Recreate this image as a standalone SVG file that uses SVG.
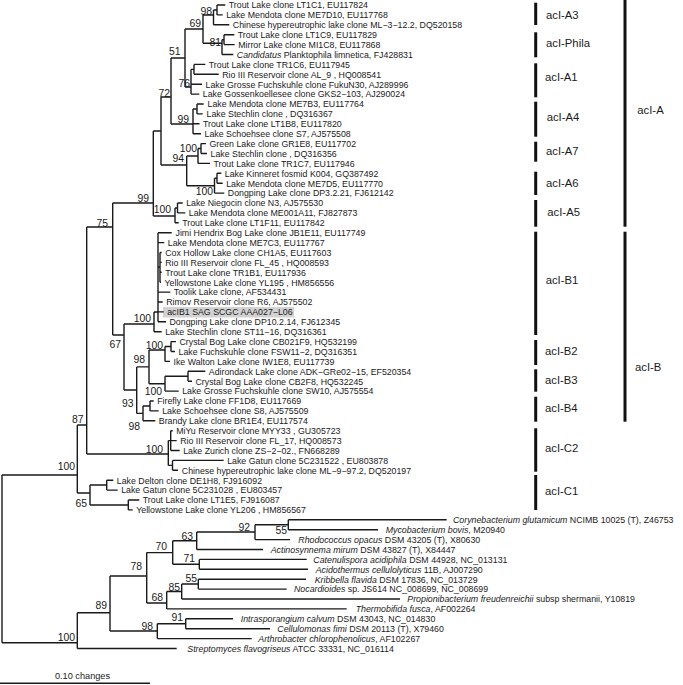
<svg xmlns="http://www.w3.org/2000/svg" width="683" height="685" viewBox="0 0 683 685">
<style>
text{font-family:"Liberation Sans",Arial,Helvetica,sans-serif;fill:#1a1a1a}
.t{font-size:8.8px}
.i{font-style:italic}
.bs{font-size:10.4px;text-anchor:end}
.cl{font-size:11.3px}
.ln{fill:none;stroke:#1a1a1a;stroke-width:1.4}
.bar{stroke:#111;stroke-width:3}
</style>
<rect width="683" height="685" fill="#fff"/>
<rect id="highlight" x="163" y="307" width="131" height="10.5" fill="#d2d2d2"/>
<g id="connectors" class="ln">
<path d="M2 475V642.7M2 475H77.3M2 642.7H77.3"/>
<path d="M77.3 425V493M77.3 425H86.7M77.3 493H90"/>
<path d="M86.7 227V454M86.7 227H112.7M86.7 454H168.3"/>
<path d="M112.7 203V335M112.7 203H153.3M112.7 335H124"/>
<path d="M153.3 131V216M153.3 131H161M153.3 216H175"/>
<path d="M161 97V165M161 97H171M161 165H186.7"/>
<path d="M171 58V124M171 58H185M171 124H193"/>
<path d="M185 29V87M185 29H203M185 87H191"/>
<path d="M203 15V43.3M203 15H213.5M203 43.3H222"/>
<path d="M213.5 10V24.8M213.5 10H217M213.5 24.8H229.3"/>
<path d="M217 5V14.9M217 5H225.3M217 14.9H222.7"/>
<path d="M222 39.7V54.5M222 39.7H224M222 54.5H233.3"/>
<path d="M224 34.7V44.6M224 34.7H234.3M224 44.6H234.7"/>
<path d="M191 69.4V94.1M191 69.4H194M191 84.2H202M191 94.1H199.3"/>
<path d="M194 64.4V74.3M194 64.4H205.3M194 74.3H218.7"/>
<path d="M193 109V133.7M193 109H197M193 123.8H199.5M193 133.7H201"/>
<path d="M197 104V113.9M197 104H203.7M197 113.9H202.7"/>
<path d="M186.7 156V185.7M186.7 156H198M186.7 185.7H214.5"/>
<path d="M198 148.5V163.4M198 148.5H201M198 163.4H210"/>
<path d="M201 143.6V153.5M201 143.6H206M201 153.5H207"/>
<path d="M214.5 178.3V193.1M214.5 178.3H217M214.5 193.1H224.3"/>
<path d="M217 173.3V183.2M217 173.3H221.3M217 183.2H222.7"/>
<path d="M175 208V222.8M175 208H177.5M175 222.8H178.7"/>
<path d="M177.5 203V212.9M177.5 203H182.7M177.5 212.9H185.3"/>
<path d="M124 324V390M124 324H154M124 390H136.7"/>
<path d="M154 312V331.7M154 312H158M154 331.7H161.7"/>
<path d="M158 232.7V321.8M158 232.7H171.7M158 242.6H164.3M158 267H160M158 292.1H170.3M158 302H162.7M158 311.9H163.7M158 321.8H166"/>
<path d="M160 252.5V282.2M160 252.5H161.7M160 262.4H161.7M160 272.3H161.7M160 282.2H161"/>
<path d="M136.7 366.9V413.4M136.7 366.9H149M136.7 413.4H143"/>
<path d="M149 350V383.7M149 350H165M149 383.7H165"/>
<path d="M165 346.5V361.4M165 346.5H171M165 361.4H170"/>
<path d="M171 341.6V351.5M171 341.6H176M171 351.5H175"/>
<path d="M165 376.3V391.1M165 376.3H188M165 391.1H178.7"/>
<path d="M188 371.3V381.2M188 371.3H205.3M188 381.2H192"/>
<path d="M143 406V420.8M143 406H150M143 420.8H155.3"/>
<path d="M150 401V410.9M150 401H153.7M150 410.9H158.7"/>
<path d="M168.3 440.6V465.4M168.3 440.6H170.7M168.3 465.4H172.5"/>
<path d="M170.7 430.7V450.5M170.7 430.7H172.7M170.7 440.6H176.7M170.7 450.5H179.7"/>
<path d="M172.5 460.4V470.3M172.5 460.4H223.7M172.5 470.3H178"/>
<path d="M90 485V505M90 485H106.7M90 505H128.3"/>
<path d="M106.7 480.2V490.1M106.7 480.2H113.3M106.7 490.1H117.7"/>
<path d="M128.3 500V509.9M128.3 500H139.3M128.3 509.9H132.7"/>
<path d="M77.3 612.7V648.5M77.3 612.7H110M77.3 648.5H176.7"/>
<path d="M110 576V631M110 576H146.7M110 631H157.3"/>
<path d="M146.7 552.6V603M146.7 552.6H172.7M146.7 603H166.7"/>
<path d="M172.7 540.8V564.3M172.7 540.8H196.7M172.7 564.3H199.3"/>
<path d="M196.7 532V549.5M196.7 532H255M196.7 549.5H263"/>
<path d="M255 524.7V539.6M255 524.7H288.3M255 539.6H290"/>
<path d="M288.3 519.8V529.7M288.3 519.8H446.7M288.3 529.7H378"/>
<path d="M199.3 559.4V569.3M199.3 559.4H306.7M199.3 569.3H308"/>
<path d="M166.7 591.5V608.9M166.7 591.5H181.7M166.7 608.9H346.7"/>
<path d="M181.7 584V599M181.7 584H198.3M181.7 599H400"/>
<path d="M198.3 579.2V589.1M198.3 579.2H306M198.3 589.1H286.7"/>
<path d="M157.3 623.7V638.6M157.3 623.7H185.7M157.3 638.6H251.7"/>
<path d="M185.7 618.8V628.7M185.7 618.8H233M185.7 628.7H270"/>
</g>
<g id="bootstrap">
<g id="bs-a3-98"><text class="bs" x="212" y="14.5">98</text></g>
<g id="bs-69"><text class="bs" x="201" y="27">69</text></g>
<g id="bs-81"><text class="bs" x="221" y="46">81</text></g>
<g id="bs-51"><text class="bs" x="180.5" y="55">51</text></g>
<g id="bs-76"><text class="bs" x="190" y="87">76</text></g>
<g id="bs-72"><text class="bs" x="170" y="97">72</text></g>
<g id="bs-a4-99"><text class="bs" x="189" y="123">99</text></g>
<g id="bs-a7-100"><text class="bs" x="197" y="152">100</text></g>
<g id="bs-94"><text class="bs" x="184" y="162">94</text></g>
<g id="bs-a6-100"><text class="bs" x="213" y="195">100</text></g>
<g id="bs-a-99"><text class="bs" x="149" y="202">99</text></g>
<g id="bs-a5-100"><text class="bs" x="171" y="213">100</text></g>
<g id="bs-75"><text class="bs" x="108" y="227">75</text></g>
<g id="bs-b1-100"><text class="bs" x="151" y="322">100</text></g>
<g id="bs-67"><text class="bs" x="121" y="348">67</text></g>
<g id="bs-b2-100"><text class="bs" x="163" y="349">100</text></g>
<g id="bs-b23-98"><text class="bs" x="145" y="363">98</text></g>
<g id="bs-b3-100"><text class="bs" x="162" y="395">100</text></g>
<g id="bs-93"><text class="bs" x="133.5" y="407">93</text></g>
<g id="bs-b4-98"><text class="bs" x="140" y="430">98</text></g>
<g id="bs-87"><text class="bs" x="83.5" y="423">87</text></g>
<g id="bs-c2-100"><text class="bs" x="163" y="453">100</text></g>
<g id="bs-in-100"><text class="bs" x="75" y="470">100</text></g>
<g id="bs-65"><text class="bs" x="87" y="507">65</text></g>
<g id="bs-92"><text class="bs" x="250" y="531">92</text></g>
<g id="bs-55a"><text class="bs" x="287" y="534">55</text></g>
<g id="bs-63"><text class="bs" x="193" y="540">63</text></g>
<g id="bs-70"><text class="bs" x="167" y="550">70</text></g>
<g id="bs-71"><text class="bs" x="195" y="562">71</text></g>
<g id="bs-78"><text class="bs" x="142" y="570">78</text></g>
<g id="bs-55b"><text class="bs" x="197" y="582">55</text></g>
<g id="bs-85"><text class="bs" x="180" y="591">85</text></g>
<g id="bs-68"><text class="bs" x="163" y="601">68</text></g>
<g id="bs-89"><text class="bs" x="107" y="609">89</text></g>
<g id="bs-91"><text class="bs" x="183" y="621">91</text></g>
<g id="bs-98o"><text class="bs" x="153" y="630">98</text></g>
<g id="bs-out-100"><text class="bs" x="75" y="641">100</text></g>
</g>
<g id="leaves" class="t">
<g id="L0"><text class="t" x="228.8" y="8.3">Trout Lake clone LT1C1, EU117824</text></g>
<g id="L1"><text class="t" x="226.2" y="18.2">Lake Mendota clone ME7D10, EU117768</text></g>
<g id="L2"><text class="t" x="232.8" y="28.1">Chinese hypereutrophic lake clone ML−3−12.2, DQ520158</text></g>
<g id="L3"><text class="t" x="237.8" y="38">Trout Lake clone LT1C9, EU117829</text></g>
<g id="L4"><text class="t" x="238.2" y="47.9">Mirror Lake clone MI1C8, EU117868</text></g>
<g id="L5"><text class="t" x="236.8" y="57.8"><tspan class="i">Candidatus</tspan> Planktophila limnetica, FJ428831</text></g>
<g id="L6"><text class="t" x="208.8" y="67.7">Trout Lake clone TR1C6, EU117945</text></g>
<g id="L7"><text class="t" x="222.2" y="77.6">Rio III Reservoir clone AL_9 , HQ008541</text></g>
<g id="L8"><text class="t" x="205.5" y="87.5">Lake Grosse Fuchskuhle clone FukuN30, AJ289996</text></g>
<g id="L9"><text class="t" x="202.8" y="97.4">Lake Gossenkoellesee clone GKS2−103, AJ290024</text></g>
<g id="L10"><text class="t" x="207.5" y="107.3">Lake Mendota clone ME7B3, EU117764</text></g>
<g id="L11"><text class="t" x="206.5" y="117.2">Lake Stechlin clone , DQ316367</text></g>
<g id="L12"><text class="t" x="203" y="127.1">Trout Lake clone LT1B8, EU117820</text></g>
<g id="L13"><text class="t" x="204.5" y="137">Lake Schoehsee clone S7, AJ575508</text></g>
<g id="L14"><text class="t" x="209.5" y="146.9">Green Lake clone GR1E8, EU117702</text></g>
<g id="L15"><text class="t" x="210.5" y="156.8">Lake Stechlin clone , DQ316356</text></g>
<g id="L16"><text class="t" x="213.5" y="166.7">Trout Lake clone TR1C7, EU117946</text></g>
<g id="L17"><text class="t" x="224.8" y="176.6">Lake Kinneret fosmid K004, GQ387492</text></g>
<g id="L18"><text class="t" x="226.2" y="186.5">Lake Mendota clone ME7D5, EU117770</text></g>
<g id="L19"><text class="t" x="227.8" y="196.4">Dongping Lake clone DP3.2.21, FJ612142</text></g>
<g id="L20"><text class="t" x="186.2" y="206.3">Lake Niegocin clone N3, AJ575530</text></g>
<g id="L21"><text class="t" x="188.8" y="216.2">Lake Mendota clone ME001A11, FJ827873</text></g>
<g id="L22"><text class="t" x="182.2" y="226.1">Trout Lake clone LT1F11, EU117842</text></g>
<g id="L23"><text class="t" x="175.5" y="236">Jimi Hendrix Bog Lake clone JB1E11, EU117749</text></g>
<g id="L24"><text class="t" x="167.8" y="245.9">Lake Mendota clone ME7C3, EU117767</text></g>
<g id="L25"><text class="t" x="165.2" y="255.8">Cox Hollow Lake clone CH1A5, EU117603</text></g>
<g id="L26"><text class="t" x="165.2" y="265.7">Rio III Reservoir clone FL_45 , HQ008593</text></g>
<g id="L27"><text class="t" x="165.2" y="275.6">Trout Lake clone TR1B1, EU117936</text></g>
<g id="L28"><text class="t" x="164.5" y="285.5">Yellowstone Lake clone YL195 , HM856556</text></g>
<g id="L29"><text class="t" x="173.8" y="295.4">Toolik Lake clone, AF534431</text></g>
<g id="L30"><text class="t" x="166.2" y="305.3">Rimov Reservoir clone R6, AJ575502</text></g>
<g id="L31"><text class="t" x="167.2" y="315.2">acIB1 SAG SCGC AAA027−L06</text></g>
<g id="L32"><text class="t" x="169.5" y="325.1">Dongping Lake clone DP10.2.14, FJ612345</text></g>
<g id="L33"><text class="t" x="165.2" y="335">Lake Stechlin clone ST11−16, DQ316361</text></g>
<g id="L34"><text class="t" x="179.5" y="344.9">Crystal Bog Lake clone CB021F9, HQ532199</text></g>
<g id="L35"><text class="t" x="178.5" y="354.8">Lake Fuchskuhle clone FSW11−2, DQ316351</text></g>
<g id="L36"><text class="t" x="173.5" y="364.7">Ike Walton Lake clone IW1E8, EU117739</text></g>
<g id="L37"><text class="t" x="208.8" y="374.6">Adirondack Lake clone ADK−GRe02−15, EF520354</text></g>
<g id="L38"><text class="t" x="195.5" y="384.5">Crystal Bog Lake clone CB2F8, HQ532245</text></g>
<g id="L39"><text class="t" x="182.2" y="394.4">Lake Grosse Fuchskuhle clone SW10, AJ575554</text></g>
<g id="L40"><text class="t" x="157.2" y="404.3">Firefly Lake clone FF1D8, EU117669</text></g>
<g id="L41"><text class="t" x="162.2" y="414.2">Lake Schoehsee clone S8, AJ575509</text></g>
<g id="L42"><text class="t" x="158.8" y="424.1">Brandy Lake clone BR1E4, EU117574</text></g>
<g id="L43"><text class="t" x="176.2" y="434">MiYu Reservoir clone MYY33 , GU305723</text></g>
<g id="L44"><text class="t" x="180.2" y="443.9">Rio III Reservoir clone FL_17, HQ008573</text></g>
<g id="L45"><text class="t" x="183.2" y="453.8">Lake Zurich clone ZS−2−02., FN668289</text></g>
<g id="L46"><text class="t" x="227.2" y="463.7">Lake Gatun clone 5C231522 , EU803878</text></g>
<g id="L47"><text class="t" x="181.8" y="473.6">Chinese hypereutrophic lake clone ML−9−97.2, DQ520197</text></g>
<g id="L48"><text class="t" x="116.8" y="483.5">Lake Delton clone DE1H8, FJ916092</text></g>
<g id="L49"><text class="t" x="121.2" y="493.4">Lake Gatun clone 5C231028 , EU803457</text></g>
<g id="L50"><text class="t" x="142.8" y="503.3">Trout Lake clone LT1E5, FJ916087</text></g>
<g id="L51"><text class="t" x="136.2" y="513.2">Yellowstone Lake clone YL206 , HM856567</text></g>
<g id="L52"><text class="t" x="453" y="523.1"><tspan class="i">Corynebacterium glutamicum</tspan> NCIMB 10025 (T), Z46753</text></g>
<g id="L53"><text class="t" x="385.7" y="533"><tspan class="i">Mycobacterium bovis</tspan>, M20940</text></g>
<g id="L54"><text class="t" x="298.3" y="542.9"><tspan class="i">Rhodococcus opacus</tspan> DSM 43205 (T), X80630</text></g>
<g id="L55"><text class="t" x="270.7" y="552.8"><tspan class="i">Actinosynnema mirum</tspan> DSM 43827 (T), X84447</text></g>
<g id="L56"><text class="t" x="313.3" y="562.7"><tspan class="i">Catenulispora acidiphila</tspan> DSM 44928, NC_013131</text></g>
<g id="L57"><text class="t" x="315.7" y="572.6"><tspan class="i">Acidothermus cellulolyticus</tspan> 11B, AJ007290</text></g>
<g id="L58"><text class="t" x="314.7" y="582.5"><tspan class="i">Kribbella flavida</tspan> DSM 17836, NC_013729</text></g>
<g id="L59"><text class="t" x="294" y="592.4"><tspan class="i">Nocardioides</tspan> sp. JS614 NC_008699, NC_008699</text></g>
<g id="L60"><text class="t" x="407.3" y="602.3"><tspan class="i">Propionibacterium freudenreichii</tspan> subsp shermanii, Y10819</text></g>
<g id="L61"><text class="t" x="355.7" y="612.2"><tspan class="i">Thermobifida fusca</tspan>, AF002264</text></g>
<g id="L62"><text class="t" x="240.7" y="622.1"><tspan class="i">Intrasporangium calvum</tspan> DSM 43043, NC_014830</text></g>
<g id="L63"><text class="t" x="277.3" y="632"><tspan class="i">Cellulomonas fimi</tspan> DSM 20113 (T), X79460</text></g>
<g id="L64"><text class="t" x="258.3" y="641.9"><tspan class="i">Arthrobacter chlorophenolicus</tspan>, AF102267</text></g>
<g id="L65"><text class="t" x="187.3" y="651.8"><tspan class="i">Streptomyces flavogriseus</tspan> ATCC 33331, NC_016114</text></g>
</g>
<g id="clades">
<g id="acI-A3"><line class="bar" x1="535.7" y1="2.7" x2="535.7" y2="25"/><text class="cl" x="546" y="19">acI-A3</text></g>
<g id="acI-Phila"><line class="bar" x1="535.7" y1="32.3" x2="535.7" y2="57.3"/><text class="cl" x="546" y="46.7">acI-Phila</text></g>
<g id="acI-A1"><line class="bar" x1="535.7" y1="63.3" x2="535.7" y2="97.3"/><text class="cl" x="545" y="80.7">acI-A1</text></g>
<g id="acI-A4"><line class="bar" x1="535.7" y1="101.7" x2="535.7" y2="136.7"/><text class="cl" x="546.7" y="120.7">acI-A4</text></g>
<g id="acI-A7"><line class="bar" x1="535.7" y1="141.7" x2="535.7" y2="161.7"/><text class="cl" x="546" y="155">acI-A7</text></g>
<g id="acI-A6"><line class="bar" x1="535.7" y1="171.7" x2="535.7" y2="195"/><text class="cl" x="546" y="186.7">acI-A6</text></g>
<g id="acI-A5"><line class="bar" x1="535.7" y1="200" x2="535.7" y2="226.7"/><text class="cl" x="547.3" y="215.7">acI-A5</text></g>
<g id="acI-B1"><line class="bar" x1="535.7" y1="231.7" x2="535.7" y2="335"/><text class="cl" x="545.7" y="284">acI-B1</text></g>
<g id="acI-B2"><line class="bar" x1="535.7" y1="340" x2="535.7" y2="365"/><text class="cl" x="545" y="355">acI-B2</text></g>
<g id="acI-B3"><line class="bar" x1="535.7" y1="369.3" x2="535.7" y2="391.7"/><text class="cl" x="545" y="384">acI-B3</text></g>
<g id="acI-B4"><line class="bar" x1="535.7" y1="396.7" x2="535.7" y2="421.7"/><text class="cl" x="545" y="412.3">acI-B4</text></g>
<g id="acI-C2"><line class="bar" x1="535.7" y1="428.3" x2="535.7" y2="471.7"/><text class="cl" x="545" y="452.3">acI-C2</text></g>
<g id="acI-C1"><line class="bar" x1="535.7" y1="475" x2="535.7" y2="510"/><text class="cl" x="545" y="495">acI-C1</text></g>
<g id="acI-A"><line class="bar" x1="625" y1="0" x2="625" y2="226.7"/><text class="cl" x="637.3" y="114">acI-A</text></g>
<g id="acI-B"><line class="bar" x1="625" y1="231.7" x2="625" y2="421.7"/><text class="cl" x="635" y="370.7">acI-B</text></g>
</g>
<g id="scale">
<line x1="0" y1="683.3" x2="150" y2="683.3" stroke="#1a1a1a" stroke-width="1.5"/>
<text x="82.5" y="679" text-anchor="middle" style="font-size:9.2px">0.10 changes</text>
</g>
</svg>
